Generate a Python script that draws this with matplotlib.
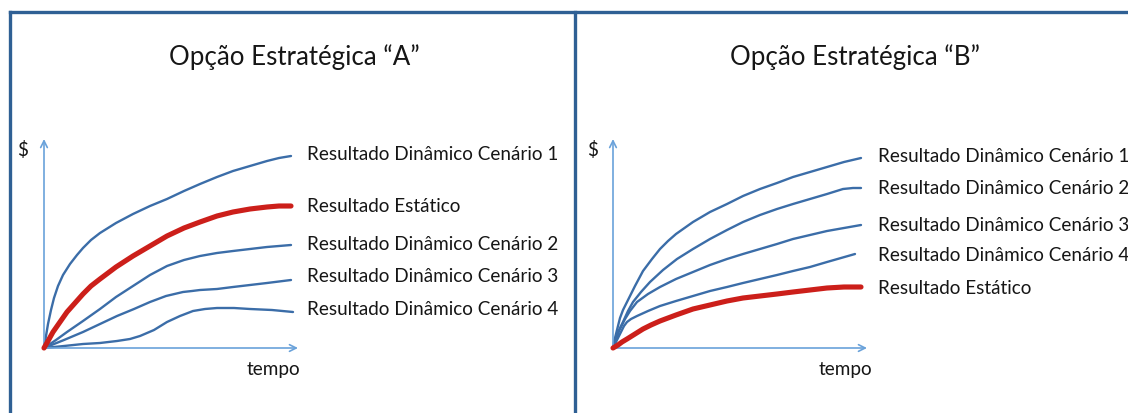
import matplotlib
matplotlib.use("Agg")
import matplotlib.pyplot as plt
from matplotlib.lines import Line2D

# ---- data (time, $) in arbitrary units; origin at (0, 0) ----
# Option A
a_s1_t = [0, 2, 4, 7, 10, 14, 19, 26, 33, 39, 47, 56, 72, 89, 106, 123, 140,
          156, 173, 189, 206, 223, 235, 247]
a_s1_v = [0, 12, 24, 38, 50, 62, 73, 84, 93, 100, 108, 115, 125, 134, 142, 149,
          157, 164, 171, 177, 182, 187, 190, 192]
a_st_t = [0, 4, 9, 16, 23, 31, 39, 47, 56, 72, 89, 106, 123, 140, 156, 173,
          189, 206, 223, 235, 247]
a_st_v = [0, 7, 16, 26, 36, 45, 54, 62, 69, 81, 92, 102, 112, 120, 126, 132,
          136, 139, 141, 142, 142]
a_s2_t = [0, 12, 23, 39, 56, 72, 89, 106, 123, 140, 156, 173, 189, 206, 223, 247]
a_s2_v = [0, 8, 16, 27, 39, 51, 62, 73, 82, 88, 92, 95, 97, 99, 101, 103]
a_s3_t = [0, 20, 39, 56, 73, 90, 106, 122, 139, 148, 156, 173, 189, 206, 223, 247]
a_s3_v = [0, 8, 16, 24, 32, 39, 46, 52, 56, 57, 58, 59, 61, 63, 65, 68]
a_s4_t = [0, 20, 39, 56, 73, 86, 96, 110, 123, 136, 149, 161, 173, 190, 206,
          228, 249]
a_s4_v = [0, 2, 4, 5, 7, 9, 12, 18, 26, 32, 37, 39, 40, 40, 39, 38, 36]

# Option B
b_s1_t = [0, 1, 3, 5, 7, 10, 14, 22, 30, 39, 47, 55, 63, 80, 97, 114, 130, 147,
          164, 180, 197, 214, 231, 248]
b_s1_v = [0, 6, 14, 22, 30, 38, 46, 62, 77, 89, 99, 107, 114, 126, 136, 144,
          152, 159, 165, 171, 176, 181, 186, 190]
b_s2_t = [0, 3, 6, 10, 15, 20, 28, 37, 50, 64, 80, 97, 114, 130, 147, 164,
          180, 197, 214, 230, 240, 248]
b_s2_v = [0, 9, 18, 26, 37, 46, 56, 66, 78, 89, 99, 109, 118, 126, 133, 139,
          144, 149, 154, 159, 160, 160]
b_s3_t = [0, 3, 6, 9, 12, 17, 24, 35, 47, 63, 80, 97, 114, 130, 147, 164,
          180, 197, 214, 231, 248]
b_s3_v = [0, 9, 17, 23, 29, 37, 46, 54, 61, 69, 76, 83, 89, 94, 99, 104,
          109, 113, 117, 120, 123]
b_s4_t = [0, 4, 8, 11, 14, 18, 24, 35, 47, 63, 80, 97, 114, 130, 147, 164,
          180, 197, 214, 228, 242]
b_s4_v = [0, 8, 16, 22, 26, 29, 32, 37, 42, 47, 52, 57, 61, 65, 69, 73,
          77, 81, 86, 90, 94]
b_st_t = [0, 5, 9, 14, 22, 30, 38, 47, 63, 80, 97, 114, 130, 147, 164, 180,
          197, 214, 231, 248]
b_st_v = [0, 3, 6, 9, 14, 19, 23, 27, 33, 39, 43, 47, 50, 52, 54, 56,
          58, 60, 61, 61]

titles = ["Opção Estratégica \u201cA\u201d", "Opção Estratégica \u201cB\u201d"]
labels_a = ["Resultado Dinâmico Cenário 1", "Resultado Estático",
            "Resultado Dinâmico Cenário 2", "Resultado Dinâmico Cenário 3",
            "Resultado Dinâmico Cenário 4"]
labels_b = ["Resultado Dinâmico Cenário 1", "Resultado Dinâmico Cenário 2",
            "Resultado Dinâmico Cenário 3", "Resultado Dinâmico Cenário 4",
            "Resultado Estático"]
label_v_a = [194, 142, 104, 72, 39]
label_v_b = [192, 160, 123, 93, 60]

W, H = 1128, 414
BLUE = "#3B6DA8"
RED = "#CC1F1A"
AXIS = "#6AA2DA"
FRAME = "#2F6094"
TXT = "#161616"
FONT = "Lato"
FS = 13.6

plt.rcParams["font.family"] = [FONT, "DejaVu Sans"]

fig = plt.figure(figsize=(W / 100, H / 100), dpi=100)
fig.patch.set_facecolor("white")

XMAX, YMAX = 254, 209


def make_axes(ox, oy):
    ax = fig.add_axes([ox / W, (H - oy) / H, XMAX / W, YMAX / H])
    ax.set_xlim(0, XMAX)
    ax.set_ylim(0, YMAX)
    ax.axis("off")
    # axis arrows
    ax.annotate("", xy=(XMAX, 0), xytext=(0, 0),
                arrowprops=dict(arrowstyle="->", color=AXIS, lw=1.2,
                                shrinkA=0, shrinkB=0, mutation_scale=12))
    ax.annotate("", xy=(0, YMAX), xytext=(0, 0),
                arrowprops=dict(arrowstyle="->", color=AXIS, lw=1.2,
                                shrinkA=0, shrinkB=0, mutation_scale=12))
    return ax


def curve(ax, t, v, static=False):
    if static:
        ax.plot(t, v, color=RED, lw=3.7, solid_capstyle="round",
                solid_joinstyle="round", clip_on=False, zorder=3)
    else:
        ax.plot(t, v, color=BLUE, lw=1.7, solid_capstyle="round",
                solid_joinstyle="round", clip_on=False, zorder=2)


# Option A panel
axa = make_axes(44, 349)
curve(axa, a_s1_t, a_s1_v)
curve(axa, a_s2_t, a_s2_v)
curve(axa, a_s3_t, a_s3_v)
curve(axa, a_s4_t, a_s4_v)
curve(axa, a_st_t, a_st_v, static=True)
for lab, v in zip(labels_a, label_v_a):
    axa.text(263, v, lab, fontsize=FS, color=TXT, va="center", ha="left",
             clip_on=False)
axa.text(-21, 199, "$", fontsize=FS, color=TXT, ha="center", va="center")
axa.text(229, -21, "tempo", fontsize=FS, color=TXT, ha="center", va="center")

# Option B panel
axb = make_axes(613, 349)
curve(axb, b_s1_t, b_s1_v)
curve(axb, b_s2_t, b_s2_v)
curve(axb, b_s3_t, b_s3_v)
curve(axb, b_s4_t, b_s4_v)
curve(axb, b_st_t, b_st_v, static=True)
for lab, v in zip(labels_b, label_v_b):
    axb.text(265, v, lab, fontsize=FS, color=TXT, va="center", ha="left",
             clip_on=False)
axb.text(-20, 199, "$", fontsize=FS, color=TXT, ha="center", va="center")
axb.text(232, -21, "tempo", fontsize=FS, color=TXT, ha="center", va="center")

# panel titles
fig.text(294 / W, 1 - 57 / H, titles[0], fontsize=18.6, color=TXT,
         ha="center", va="center")
fig.text(855 / W, 1 - 57 / H, titles[1], fontsize=18.6, color=TXT,
         ha="center", va="center")

# frame around the two panels
for xs, ys in [([10, 10], [13, H]), ([575, 575], [13, H]), ([10, W], [13, 13])]:
    fig.add_artist(Line2D([x / W for x in xs], [1 - y / H for y in ys],
                          color=FRAME, lw=2.4, transform=fig.transFigure))

fig.savefig("out.png", dpi=100)
